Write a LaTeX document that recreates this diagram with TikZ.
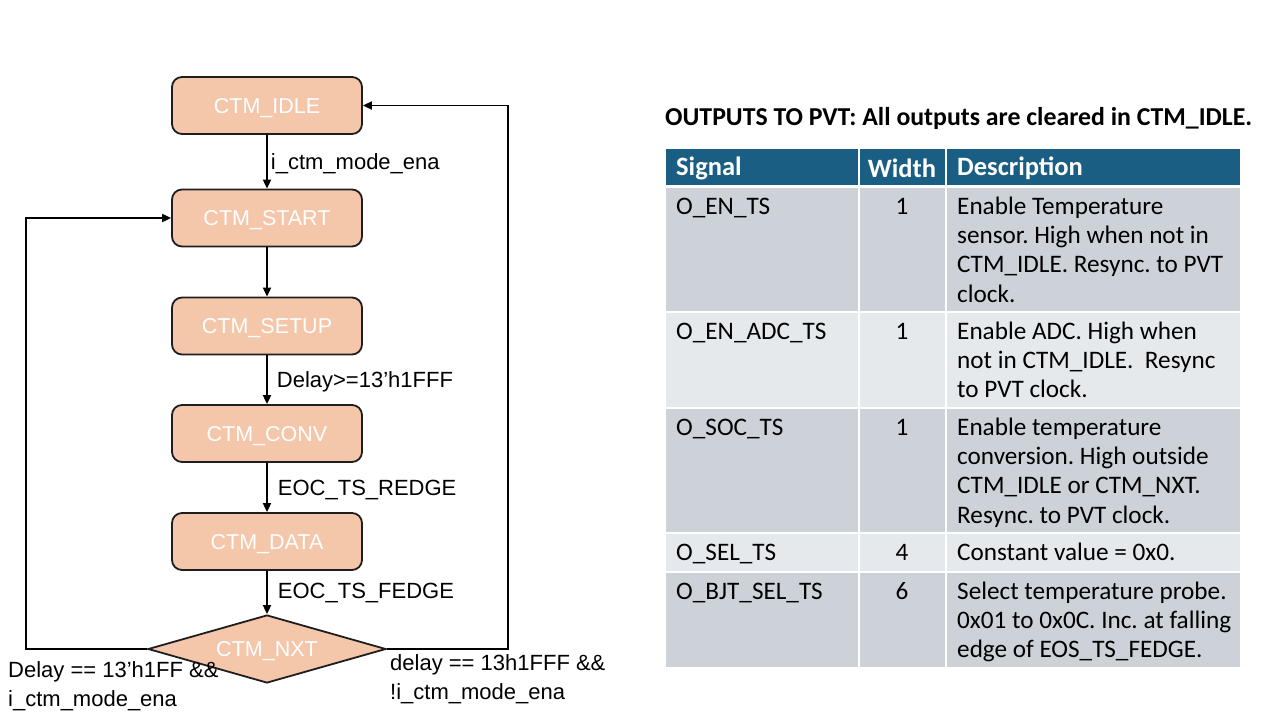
\documentclass[tikz,border=0pt]{standalone}
\usepackage{fontspec}
\setmainfont{Liberation Sans}
\newfontfamily\tabfam{Carlito}
\usetikzlibrary{shapes.geometric,arrows.meta}
\definecolor{statefill}{HTML}{F4C6AA}
\definecolor{stateline}{HTML}{1E1E1E}
\definecolor{headblue}{HTML}{1B5E84}
\definecolor{rowdark}{HTML}{CDD2D9}
\definecolor{rowlight}{HTML}{E6E9EC}
\frenchspacing

\begin{document}
\begin{tikzpicture}
[x=1pt, y=-1pt, every node/.style={inner sep=0pt},
state/.style={rectangle, rounded corners=10pt, minimum width=190pt, minimum height=57pt, text depth=0pt, fill=statefill, draw=stateline, line width=1.8pt, text=white, font=\fontsize{21.5}{25}\selectfont},
decision/.style={diamond, aspect=3.5, minimum width=238pt, minimum height=68pt, text depth=0pt, fill=statefill, draw=stateline, line width=1.8pt, text=white, font=\fontsize{21.5}{25}\selectfont},
flow/.style={line width=1.8pt, -{Triangle[length=9pt, width=8pt]}, color=black},
cond/.style={font=\fontsize{22}{29}\selectfont, align=left},
cell/.style={anchor=north west, align=left, font=\tabfam\fontsize{25.2}{29.3}\selectfont},
headtxt/.style={anchor=west, text=white, font=\tabfam\bfseries\fontsize{26.5}{29.3}\selectfont}]
\useasboundingbox (0,0) rectangle (1280,720);
% state machine
\node (idle) [state] at (267, 105.5) {CTM\_IDLE};
\node (start) [state] at (267, 218) {CTM\_START};
\node (setup) [state] at (267, 326) {CTM\_SETUP};
\node (conv) [state] at (267, 433.5) {CTM\_CONV};
\node (data) [state] at (267, 541.5) {CTM\_DATA};
\node (nxt) [decision] at (267, 649) {CTM\_NXT};
\draw [flow] (idle) -- (start) node [cond, midway, anchor=west, xshift=3pt, yshift=-2pt] {i\_ctm\_mode\_ena};
\draw [flow] (start) -- (setup);
\draw [flow] (setup) -- (conv) node [cond, midway, anchor=west, xshift=9pt, yshift=-2pt] {Delay>=13’h1FFF};
\draw [flow] (conv) -- (data) node [cond, midway, anchor=west, xshift=10pt, yshift=-2pt] {EOC\_TS\_REDGE};
\draw [flow] (data) -- (nxt) node [cond, midway, anchor=west, xshift=10pt] {EOC\_TS\_FEDGE};
\draw [flow] (nxt.west) -- ++(-121,0) |- (start.west);
\draw [flow] (nxt.east) -- ++(121,0) |- (idle.east);
\node (stay) [cond, anchor=north west] at (8, 656.5) {\strut Delay == 13’h1FF \&\&\\i\_ctm\_mode\_ena};
\node (leave) [cond, anchor=north west] at (390, 649.5) {\strut delay == 13h1FFF \&\&\\!i\_ctm\_mode\_ena};
% outputs table
\node (title) [anchor=west, font=\tabfam\bfseries\fontsize{25.8}{29}\selectfont] at (665, 118) {OUTPUTS TO PVT: All outputs are cleared in CTM\_IDLE.};
\foreach \ya/\yb/\col in {149/185/headblue, 188/311/rowdark, 313/407/rowlight, 409/532/rowdark, 534/571/rowlight, 573/667/rowdark}
  \foreach \xa/\xb in {666/858, 860/945, 947/1240}
    \fill [\col] (\xa,\ya) rectangle (\xb,\yb);
\node (hsig) [headtxt] at (676, 168) {Signal};
\node (hwid) [headtxt, anchor=center] at (902, 168) {Width};
\node (hdesc) [headtxt] at (957, 168) {Description};
\node (sig1) [cell] at (676, 193.5) {\strut O\_EN\_TS};
\node (wid1) [cell, anchor=north] at (902, 193.5) {\strut 1};
\node (desc1) [cell] at (957, 193.5) {\strut Enable Temperature\\sensor. High when not in\\CTM\_IDLE. Resync. to PVT\\clock.};
\node (sig2) [cell] at (676, 318.5) {\strut O\_EN\_ADC\_TS};
\node (wid2) [cell, anchor=north] at (902, 318.5) {\strut 1};
\node (desc2) [cell] at (957, 318.5) {\strut Enable ADC. High when\\not in CTM\_IDLE.\ \ Resync\\to PVT clock.};
\node (sig3) [cell] at (676, 414.5) {\strut O\_SOC\_TS};
\node (wid3) [cell, anchor=north] at (902, 414.5) {\strut 1};
\node (desc3) [cell] at (957, 414.5) {\strut Enable temperature\\conversion. High outside\\CTM\_IDLE or CTM\_NXT.\\Resync. to PVT clock.};
\node (sig4) [cell] at (676, 539.5) {\strut O\_SEL\_TS};
\node (wid4) [cell, anchor=north] at (902, 539.5) {\strut 4};
\node (desc4) [cell] at (957, 539.5) {\strut Constant value = 0x0.};
\node (sig5) [cell] at (676, 578.5) {\strut O\_BJT\_SEL\_TS};
\node (wid5) [cell, anchor=north] at (902, 578.5) {\strut 6};
\node (desc5) [cell] at (957, 578.5) {\strut Select temperature probe.\\0x01 to 0x0C. Inc. at falling\\edge of EOS\_TS\_FEDGE.};
\end{tikzpicture}
\end{document}
